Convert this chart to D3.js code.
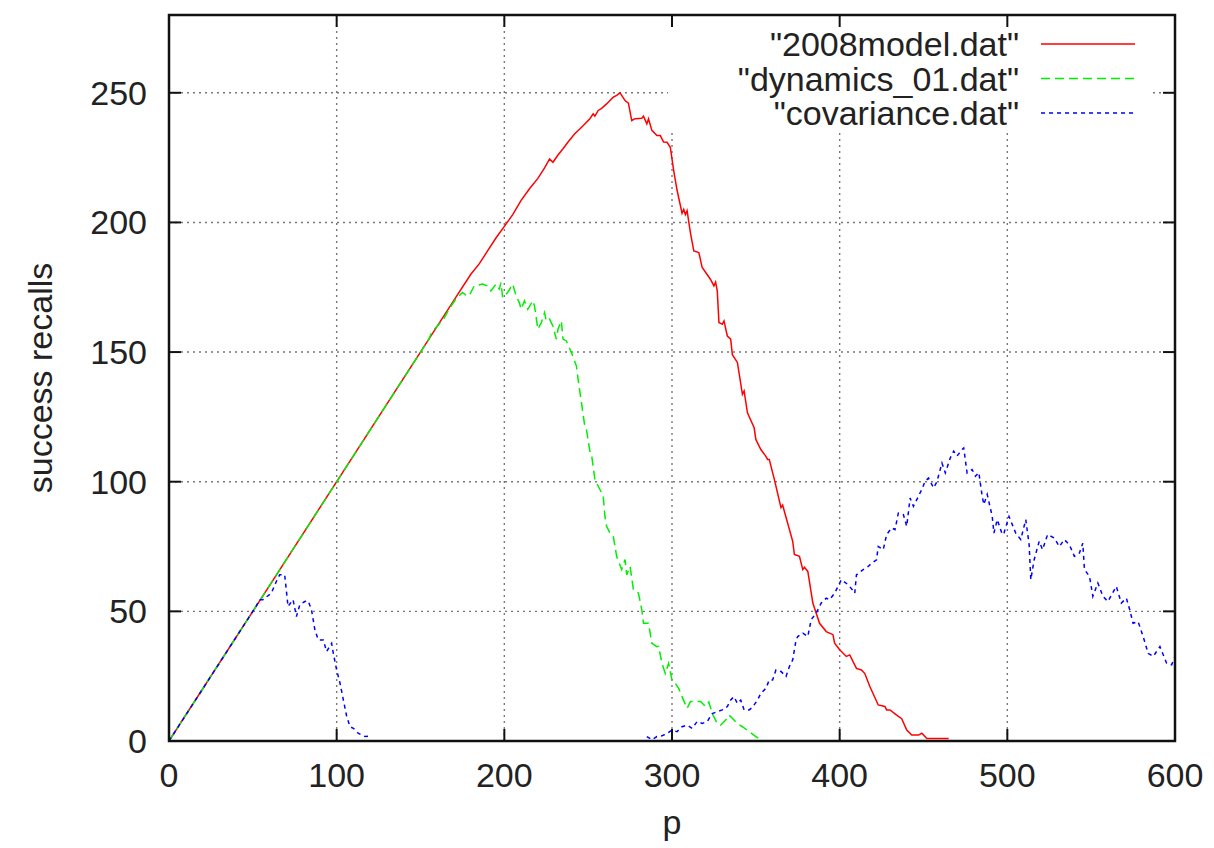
<!DOCTYPE html>
<html lang="en">
<head>
<meta charset="utf-8">
<title>success recalls vs p</title>
<script src="https://cdn.jsdelivr.net/npm/d3@7"></script>
<style>
    body {margin: 0; background: white;}
    svg {background: white; font-family: "Liberation Sans", Arial, sans-serif;}
    .grid line {stroke: #777; stroke-width: 1.4; stroke-dasharray: 2,4;}
    .tick-label {font-size: 34px; fill: #222;}
    .axis-label {font-size: 34px; fill: #222;}
    .key text {font-size: 34px; fill: #222;}
</style>
</head>
<body>
<script>
// data: [p, success recalls]
var xTicks = [0, 100, 200, 300, 400, 500, 600];
var yTicks = [0, 50, 100, 150, 200, 250];
var seriesNames = ['"2008model.dat"', '"dynamics_01.dat"', '"covariance.dat"'];

var model2008 = [[0,0],[160,160],[170,170],[180,180],[185,184],[190,189],[195,194],[200,198.5],[205,203],[210,208.5],[215,213],[220,217],[224,221],[227,224.5],[229,223.2],[232,226],[235,228.4],[238,231],[242,234.2],[245,236],[248,238],[251,240],[253,241.9],[254,241],[256,243.2],[258,244],[261,245.7],[263,247],[265,248.3],[267,249],[269,250],[270,249],[272,247],[274,246],[276,239.3],[278,240],[282,240.2],[283,241],[285,238],[286,240],[288,235.5],[291,233.5],[293,233.5],[295,231],[297,230.9],[299,229],[301,220],[303,212.5],[306,203.5],[307,205],[308,203],[309,204.5],[311,196],[313,189],[316,188.4],[318,182.6],[323,178],[325,175.5],[326,177],[327,173.6],[328,161.4],[330,160.7],[331,162],[333,156.2],[335,155],[336,149],[339,146],[342,133.7],[343,135],[345,126.6],[349,120.8],[350,116.3],[353,112.4],[356,109.8],[357,108.6],[358,108.6],[361,101],[365,90],[366,91],[367,88.6],[372,77],[373,71.9],[376,71.2],[378,66.1],[379,67],[381,65.4],[384,53.2],[388,45.4],[392,42.2],[396,41],[397,37.7],[400,35.2],[404,32.6],[406,33.2],[410,28],[413,27.4],[415,26],[418,21],[423,13.9],[427,13.3],[428,12],[430,12],[434,10],[437,8.6],[440,4.2],[443,2.3],[447,2.3],[449,3],[452,1],[465,1]];

var dynamics01 = [[0,0],[150,150],[155,155],[157,158],[161,160.7],[164,163],[167,166.5],[171,170.4],[175,173],[177,172],[179,171.7],[182,175.5],[187,176.2],[190,175.5],[192,173.6],[195,176.2],[197,174.3],[198,176.8],[199,171],[202,173],[205,176.2],[207,171.7],[209,169],[210,166.5],[212,169.8],[214,166.5],[217,169.8],[218,167.8],[220,158.8],[222,161.3],[224,165.2],[225,162],[227,162.7],[229,160],[231,155],[232,158.8],[234,162],[235,155],[237,154.3],[240,149.8],[243,144.6],[244,139.5],[246,130.4],[248,121.4],[249,120],[251,111.8],[252,110.5],[254,100.9],[257,97],[259,94.4],[260,86.6],[261,82.8],[263,80.2],[265,78.9],[267,71.2],[270,66.1],[272,70],[273,64.1],[275,67.3],[277,58.3],[280,57],[282,50.6],[283,45.4],[286,45.4],[288,37.7],[291,36.4],[292,36.5],[294,30],[296,26],[298,30],[300,23.5],[302,22.2],[304,20.3],[306,17.1],[309,12.6],[311,15.2],[314,15.2],[317,15.2],[320,13.3],[322,15],[324,10.6],[327,6.7],[329,6.1],[332,8.1],[334,10],[336,8.8],[339,6.7],[342,5.5],[346,3.6],[350,1.7],[353,0.4]];

var covarianceA = [[0,0],[52,52],[54,54.5],[56,54.5],[58,55.5],[61,57],[64,61.5],[66,64.1],[69,64.1],[71,51.9],[74,54.5],[76,48],[78,52.5],[81,53.8],[83,54],[85,50.6],[87,42.9],[89,39],[92,39],[94,34.5],[97,37.7],[98,33.8],[100,27.4],[102,22.3],[104,15.8],[106,9.4],[108,5.5],[110,4.9],[113,2.9],[117,1.7],[120,1.9]];

var covarianceB = [[285,1.7],[288,0.5],[291,1.7],[294,2],[297,2.9],[300,4.2],[303,3.6],[306,5.5],[309,6.1],[312,4.9],[315,7.5],[318,6.8],[321,7.5],[324,10.6],[327,11.3],[330,12],[333,13.3],[335,15.8],[337,17.1],[339,14.5],[341,15.8],[343,12],[346,12],[348,13],[351,15.8],[353,18.4],[356,20.3],[358,23.5],[360,23.5],[362,27.4],[365,26.8],[367,25.5],[368,24.9],[370,28.7],[372,31.3],[374,39],[375,40.3],[378,41.6],[381,40.3],[383,46.8],[386,49.3],[389,53.2],[392,55.1],[394,54.5],[397,57],[399,59.6],[401,62.2],[405,60.3],[408,58],[409,57],[410,64.1],[414,66.1],[417,67.3],[419,68.5],[422,69.9],[423,75],[426,73.8],[428,79.6],[431,82.2],[433,81.5],[435,87.9],[438,87.3],[440,82.8],[442,93.7],[444,90.5],[446,93.1],[449,97],[451,100.2],[453,101.4],[456,97.6],[458,100],[461,107.2],[463,103.4],[466,109.2],[468,111.8],[470,109.9],[473,112.4],[474,113],[476,103.4],[479,104.7],[481,102.1],[483,103.5],[485,94.4],[486,91.2],[488,95.1],[491,86.6],[492,80.2],[494,85.4],[497,79.6],[498,80.2],[501,86.6],[505,80.2],[508,77.7],[511,85.4],[513,75.7],[514,62.2],[516,69.9],[519,77],[521,73.8],[524,79.6],[528,78.3],[531,75],[534,77.7],[537,75.7],[540,71.2],[543,72.5],[545,76.3],[546,66.1],[549,63.5],[551,55.8],[554,60.9],[557,55.8],[560,53.8],[565,59.6],[568,53.2],[571,55.1],[573,50.6],[575,45.4],[578,46],[581,40.3],[584,33.8],[587,32.6],[591,36.4],[595,30],[598,29.4],[600,32.6]];

var w = 1214;
var h = 848;
var padL = 169, padR = 1175, padT = 15, padB = 741;

var svg = d3.select("body")
    .append("svg")
    .attr("width", w)
    .attr("height", h);

svg.append("clipPath")
    .attr("id", "plot-area")
    .append("rect")
    .attr("x", padL)
    .attr("y", padT)
    .attr("width", padR - padL)
    .attr("height", padB - padT);

var xScale = d3.scaleLinear()
    .domain([0, 600])
    .range([padL, padR]);

var yScale = d3.scaleLinear()
    .domain([0, 280])
    .range([padB, padT]);

// grid
var grid = svg.append("g").attr("class", "grid");
grid.selectAll(".vg")
    .data(xTicks.slice(1, -1))
    .enter()
    .append("line")
    .attr("x1", function(d) {return xScale(d);})
    .attr("x2", function(d) {return xScale(d);})
    .attr("y1", padB)
    .attr("y2", padT);
grid.selectAll(".hg")
    .data(yTicks.slice(1))
    .enter()
    .append("line")
    .attr("x1", padL)
    .attr("x2", padR)
    .attr("y1", function(d) {return yScale(d);})
    .attr("y2", function(d) {return yScale(d);});

// key area hides the grid behind it
svg.append("rect")
    .attr("x", 668)
    .attr("y", padT + 1)
    .attr("width", 484)
    .attr("height", 114)
    .attr("fill", "white");

// tick marks on all four sides, pointing inward
var tickLen = 12;
var ticks = svg.append("g")
    .attr("stroke", "#111")
    .attr("stroke-width", 2);
xTicks.forEach(function(d) {
    ticks.append("line").attr("x1", xScale(d)).attr("x2", xScale(d))
        .attr("y1", padB).attr("y2", padB - tickLen);
    ticks.append("line").attr("x1", xScale(d)).attr("x2", xScale(d))
        .attr("y1", padT).attr("y2", padT + tickLen);
});
yTicks.forEach(function(d) {
    ticks.append("line").attr("x1", padL).attr("x2", padL + tickLen)
        .attr("y1", yScale(d)).attr("y2", yScale(d));
    ticks.append("line").attr("x1", padR).attr("x2", padR - tickLen)
        .attr("y1", yScale(d)).attr("y2", yScale(d));
});

// tick labels
svg.selectAll(".xl")
    .data(xTicks)
    .enter()
    .append("text")
    .attr("class", "tick-label")
    .attr("x", function(d) {return xScale(d);})
    .attr("y", 787)
    .attr("text-anchor", "middle")
    .text(function(d) {return d;});

svg.selectAll(".yl")
    .data(yTicks)
    .enter()
    .append("text")
    .attr("class", "tick-label")
    .attr("x", 147)
    .attr("y", function(d) {return yScale(d) + 12;})
    .attr("text-anchor", "end")
    .text(function(d) {return d;});

// axis titles
svg.append("text")
    .attr("class", "axis-label")
    .attr("x", 672)
    .attr("y", 834)
    .attr("text-anchor", "middle")
    .text("p");

svg.append("text")
    .attr("class", "axis-label")
    .attr("transform", "translate(52," + 378 + ") rotate(-90)")
    .attr("text-anchor", "middle")
    .text("success recalls");

// lines
var line = d3.line()
    .x(function(d) {return xScale(d[0]);})
    .y(function(d) {return yScale(d[1]);});

var styles = [
    {color: "#ff0000", dash: null},
    {color: "#00ee00", dash: "9,5"},
    {color: "#0000ff", dash: "4,4"}
];
var seriesData = [[model2008], [dynamics01], [covarianceA, covarianceB]];

var plot = svg.append("g").attr("clip-path", "url(#plot-area)");
seriesData.forEach(function(parts, i) {
    parts.forEach(function(part) {
        plot.append("path")
            .datum(part)
            .attr("d", line)
            .attr("fill", "none")
            .attr("stroke", styles[i].color)
            .attr("stroke-width", 1.5)
            .attr("stroke-dasharray", styles[i].dash);
    });
});

// key
var key = svg.append("g").attr("class", "key");
seriesNames.forEach(function(name, i) {
    var ky = 44 + i * 34.5;
    key.append("text")
        .attr("x", 1019)
        .attr("y", ky + 12)
        .attr("text-anchor", "end")
        .text(name);
    key.append("line")
        .attr("x1", 1041)
        .attr("x2", 1135)
        .attr("y1", ky)
        .attr("y2", ky)
        .attr("stroke", styles[i].color)
        .attr("stroke-width", 1.5)
        .attr("stroke-dasharray", styles[i].dash);
});

// border
svg.append("rect")
    .attr("x", padL)
    .attr("y", padT)
    .attr("width", padR - padL)
    .attr("height", padB - padT)
    .attr("fill", "none")
    .attr("stroke", "#111")
    .attr("stroke-width", 2.5);
</script>
</body>
</html>
